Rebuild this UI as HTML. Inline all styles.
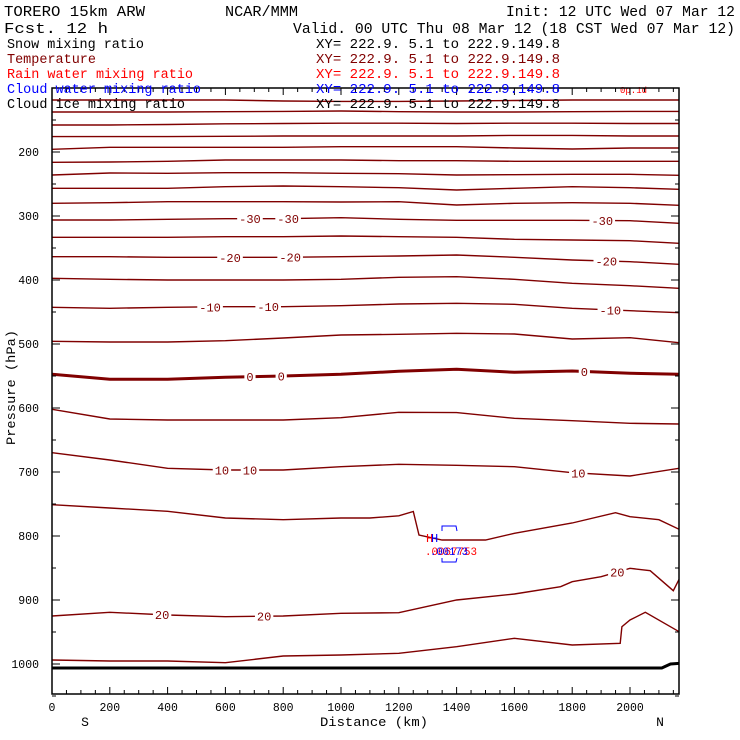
<!DOCTYPE html>
<html><head><meta charset="utf-8"><style>
html,body{margin:0;padding:0;background:#fff;}
svg{display:block;}
text{font-family:"Liberation Mono","DejaVu Sans Mono",monospace;}
</style></head><body>
<svg id="chart" width="740" height="740" viewBox="0 0 740 740" xmlns="http://www.w3.org/2000/svg">
<defs><clipPath id="plotclip"><rect x="52" y="88" width="627" height="606"/></clipPath></defs>
<rect x="0" y="0" width="740" height="740" fill="#fff"/>
<g id="contours" clip-path="url(#plotclip)"></g>
<g id="labels"></g>
<g id="anomaly">
  <text x="426" y="542" font-size="12" fill="#ff0000">H</text>
  <text x="431" y="542" font-size="12" fill="#0000ff">H</text>
  <path d="M442,531 L442,526 L456,526 L457,531" fill="none" stroke="#0000ff" stroke-width="1"/>
  <path d="M442,558 L442,562 L456,562 L457,558" fill="none" stroke="#0000ff" stroke-width="1"/>
  <text x="425" y="555" font-size="11" fill="#ff0000" textLength="52" lengthAdjust="spacingAndGlyphs">.0067753</text>
  <text x="430" y="555" font-size="11" fill="#0000ff" textLength="38" lengthAdjust="spacingAndGlyphs">.00173</text>
  <text x="620" y="93" font-size="9" fill="#ff0000">0p.1d</text>
</g>
<g id="axes"></g>
<g font-size="14.5">
  <text x="4" y="16" textLength="141" lengthAdjust="spacingAndGlyphs">TORERO  15km ARW</text>
  <text x="225" y="16" textLength="73" lengthAdjust="spacingAndGlyphs">NCAR/MMM</text>
  <text x="506" y="16" textLength="229" lengthAdjust="spacingAndGlyphs">Init: 12 UTC Wed 07 Mar 12</text>
  <text x="4" y="33" textLength="104" lengthAdjust="spacingAndGlyphs">Fcst.  12 h</text>
  <text x="293" y="33" textLength="442" lengthAdjust="spacingAndGlyphs">Valid. 00 UTC Thu 08 Mar 12 (18 CST Wed 07 Mar 12)</text>
</g>
<g font-size="13.5">
  <text x="7" y="48" fill="#000" textLength="137" lengthAdjust="spacingAndGlyphs">Snow mixing ratio</text>
  <text x="316" y="48" fill="#000" textLength="244" lengthAdjust="spacingAndGlyphs">XY= 222.9.  5.1 to 222.9.149.8</text>
  <text x="7" y="63" fill="#800000" textLength="89" lengthAdjust="spacingAndGlyphs">Temperature</text>
  <text x="316" y="63" fill="#800000" textLength="244" lengthAdjust="spacingAndGlyphs">XY= 222.9.  5.1 to 222.9.149.8</text>
  <text x="7" y="78" fill="#ff0000" textLength="186" lengthAdjust="spacingAndGlyphs">Rain water mixing ratio</text>
  <text x="316" y="78" fill="#ff0000" textLength="244" lengthAdjust="spacingAndGlyphs">XY= 222.9.  5.1 to 222.9.149.8</text>
  <text x="7" y="93" fill="#0000ff" textLength="194" lengthAdjust="spacingAndGlyphs">Cloud water mixing ratio</text>
  <text x="316" y="93" fill="#0000ff" textLength="244" lengthAdjust="spacingAndGlyphs">XY= 222.9.  5.1 to 222.9.149.8</text>
  <text x="7" y="108" fill="#000" textLength="178" lengthAdjust="spacingAndGlyphs">Cloud ice mixing ratio</text>
  <text x="316" y="108" fill="#000" textLength="244" lengthAdjust="spacingAndGlyphs">XY= 222.9.  5.1 to 222.9.149.8</text>
</g>
</svg>
<script>
// ---- data ----
const gridDist = [0,200,400,600,800,1000,1200,1400,1600,1800,2000,2170];
const gridLevels = [-75,-70,-65,-60,-55,-50,-45,-40,-35,-30,-25,-20,-15,-10,-5,0,5,10];
const pM75 = [118.8,118.8,118.8,118.8,120.3,121,121,120.3,119.5,118.8,118.8,118.8];
const pM70 = [137.5,137.5,137.5,137,136.5,136,137,137.5,137.5,137,136.5,136.5];
const pM65 = [157.8,157.8,157,156,155.5,155,155,155.5,155,155,155.5,155.5];
const pM60 = [176,176,176,175.5,175,175,175,175,174,174,175,175];
const pM55 = [195.8,192.7,192.7,192.7,192.7,191.7,191.7,191.7,193.8,195.3,193.8,193.8];
const pM50 = [216.1,215.6,214.5,212.5,212.5,212.5,213.6,213.6,214.5,214.5,214.5,214.5];
const pM45 = [235.9,232.8,233.3,232.3,232.3,233.3,233.9,235.9,235.5,234.8,234.8,236.4];
const pM40 = [256.7,256.7,256.7,254.2,253.1,254.2,255.8,259.4,256.7,254.2,255.8,258.3];
const pM35 = [280.2,279.2,277.7,277.7,277.7,278.1,277.7,282.8,280.2,279.2,280.2,283.3];
const pM30 = [306.3,306.3,305.2,304.2,304.2,302.7,305.2,306.7,306.7,306.7,307.3,311.4];
const pM25 = [333.3,333.3,333.3,332.3,332.3,331.3,332.3,333.3,336.4,337.5,338.6,342.7];
const pM20 = [363.6,363.6,364.5,364.5,364.5,363.6,362.5,360.9,364.5,368.8,371.4,375.5];
const pM15 = [397.3,398.9,400,400,400,398.9,395.8,394.8,398.9,405.2,408.9,413];
const pM10 = [442.7,444.2,442.7,441.7,441.7,440.2,437.5,436.4,438,444.2,448,451.1];
const pM5 = [495.8,496.9,496.9,494.8,490.6,485.9,484.8,483.3,484.4,492.2,490.2,498];
const p0 = [547.3,555.2,555.2,552,550,547.3,542.7,539.5,544.2,542.2,545.8,547.3];
const p5 = [602,617.2,618.8,618.8,618.8,615.2,606.7,607.2,616.1,619.8,623.9,625];
const p10 = [669.8,681.3,694.2,696.9,696.9,691.7,688,689.5,691.7,701.1,706.3,694.2];
const dist15 = [0,200,400,600,800,1000,1100,1200,1250,1270,1350,1500,1600,1800,1950,2000,2100,2170];
const p15 = [751.1,756.3,761.4,771.9,774.5,771.9,771.9,768.4,761.7,798.4,806.3,806.3,795.8,779.7,763.6,769.8,774.5,789.5];
const dist20 = [0,200,400,600,800,1000,1200,1400,1600,1760,1800,1900,2000,2070,2150,2170];
const p20 = [925,919.2,923.4,926.1,925,920.8,919.8,900,890.6,879.2,871.4,863.6,850.5,854.2,885.5,867.7];
const dist25 = [0,200,400,600,800,1000,1200,1400,1600,1800,1966,1972,2000,2053,2170];
const p25 = [993.8,995.3,995.3,997.9,987.5,985.9,983.3,972.9,959.8,970.3,967.7,941.7,931.3,919.2,949.5];
const sfcDist = [0,2110,2140,2170];
const sfcP = [1006.3,1006.3,1000,999];
const labelLevels = [-30,-30,-30,-20,-20,-20,-10,-10,-10,0,0,0,10,10,10,20,20,20];
const labelDist = [685,817,1904,616,824,1918,547,748,1932,685,793,1842,588,685,1821,381,734,1956];
const xTickLabels = [0,200,400,600,800,1000,1200,1400,1600,1800,2000];
const yTickLabels = [200,300,400,500,600,700,800,900,1000];

// ---- scales ----
const X0=52, X1=679, Y0=88, Y1=694;
function xs(d){ return X0 + d*(578/2000); }
function ys(p){ return Y0 + (p-100)*0.64; }
const NS='http://www.w3.org/2000/svg';
function mk(tag, attrs, parent){ const e=document.createElementNS(NS,tag); for(const k in attrs) e.setAttribute(k,attrs[k]); parent.appendChild(e); return e; }

const gridSeries = [pM75,pM70,pM65,pM60,pM55,pM50,pM45,pM40,pM35,pM30,pM25,pM20,pM15,pM10,pM5,p0,p5,p10];
const lines = [];
gridLevels.forEach((lv,i)=>lines.push({lv:lv, d:gridDist, p:gridSeries[i]}));
lines.push({lv:15,d:dist15,p:p15});
lines.push({lv:20,d:dist20,p:p20});
lines.push({lv:25,d:dist25,p:p25});

function interp(line, d){
  for(let i=0;i<line.d.length-1;i++){
    if(d>=line.d[i] && d<=line.d[i+1]){ const t=(d-line.d[i])/(line.d[i+1]-line.d[i]); return line.p[i]+t*(line.p[i+1]-line.p[i]); }
  }
  return line.p[line.p.length-1];
}

const cg=document.getElementById('contours');
lines.forEach(l=>{
  const pts=l.d.map((d,i)=>xs(d).toFixed(1)+','+ys(l.p[i]).toFixed(1)).join(' ');
  const e=mk('polyline',{points:pts,fill:'none',stroke:'#800000','stroke-width':l.lv===0?3:1.4},cg);
  
  
});
const sfc=mk('polyline',{points:sfcDist.map((d,i)=>xs(d).toFixed(1)+','+ys(sfcP[i]).toFixed(1)).join(' '),fill:'none',stroke:'#000','stroke-width':3},cg);



const lg=document.getElementById('labels');
labelLevels.forEach((lv,i)=>{
  const line=lines.find(l=>l.lv===lv);
  const x=xs(labelDist[i]), y=ys(interp(line,labelDist[i]));
  const txt=String(lv);
  const w=txt.length*7.2+4;
  const r=mk('rect',{x:x-w/2,y:y-6,width:w,height:12,fill:'#fff'},lg);
  
  
  const t=mk('text',{x:x,y:y+4.5,'text-anchor':'middle','font-size':12,fill:'#800000'},lg);
  t.textContent=txt;
  
  
});

const ag=document.getElementById('axes');
const frame=mk('rect',{x:X0,y:Y0,width:X1-X0,height:Y1-Y0,fill:'none',stroke:'#000','stroke-width':1.5},ag);


for(let d=0; d<=2150; d+=50){
  const x=xs(d), L=(d%200===0)?7:4;
  const t1=mk('line',{x1:x,y1:Y1,x2:x,y2:Y1-L,stroke:'#000','stroke-width':1},ag);
  
  
  const t2=mk('line',{x1:x,y1:Y0,x2:x,y2:Y0+L,stroke:'#000','stroke-width':1},ag);
  
  
}
for(let p=100; p<=1050; p+=50){
  const y=ys(p), L=(p%100===0)?8:4;
  const t1=mk('line',{x1:X0,y1:y,x2:X0+L,y2:y,stroke:'#000','stroke-width':1},ag);
  
  
  const t2=mk('line',{x1:X1,y1:y,x2:X1-L,y2:y,stroke:'#000','stroke-width':1},ag);
  
  
}
xTickLabels.forEach(v=>{
  const t=mk('text',{x:xs(v),y:711,'text-anchor':'middle','font-size':11.5},ag);
  t.textContent=String(v);
  
  
});
yTickLabels.forEach(v=>{
  const t=mk('text',{x:39,y:ys(v)+4,'text-anchor':'end','font-size':11.5},ag);
  t.textContent=String(v);
  
  
});
const xt=mk('text',{x:320,y:726,'font-size':13,textLength:108,lengthAdjust:'spacingAndGlyphs'},ag);
xt.textContent='Distance (km)';


const yt=mk('text',{x:-57,y:0,'font-size':13,transform:'translate(15,388) rotate(-90)',textLength:115,lengthAdjust:'spacingAndGlyphs'},ag);
yt.textContent='Pressure (hPa)';


const sl=mk('text',{x:85,y:726,'text-anchor':'middle','font-size':13},ag);
sl.textContent='S';


const nl=mk('text',{x:660,y:726,'text-anchor':'middle','font-size':13},ag);
nl.textContent='N';


</script>
</body></html>
